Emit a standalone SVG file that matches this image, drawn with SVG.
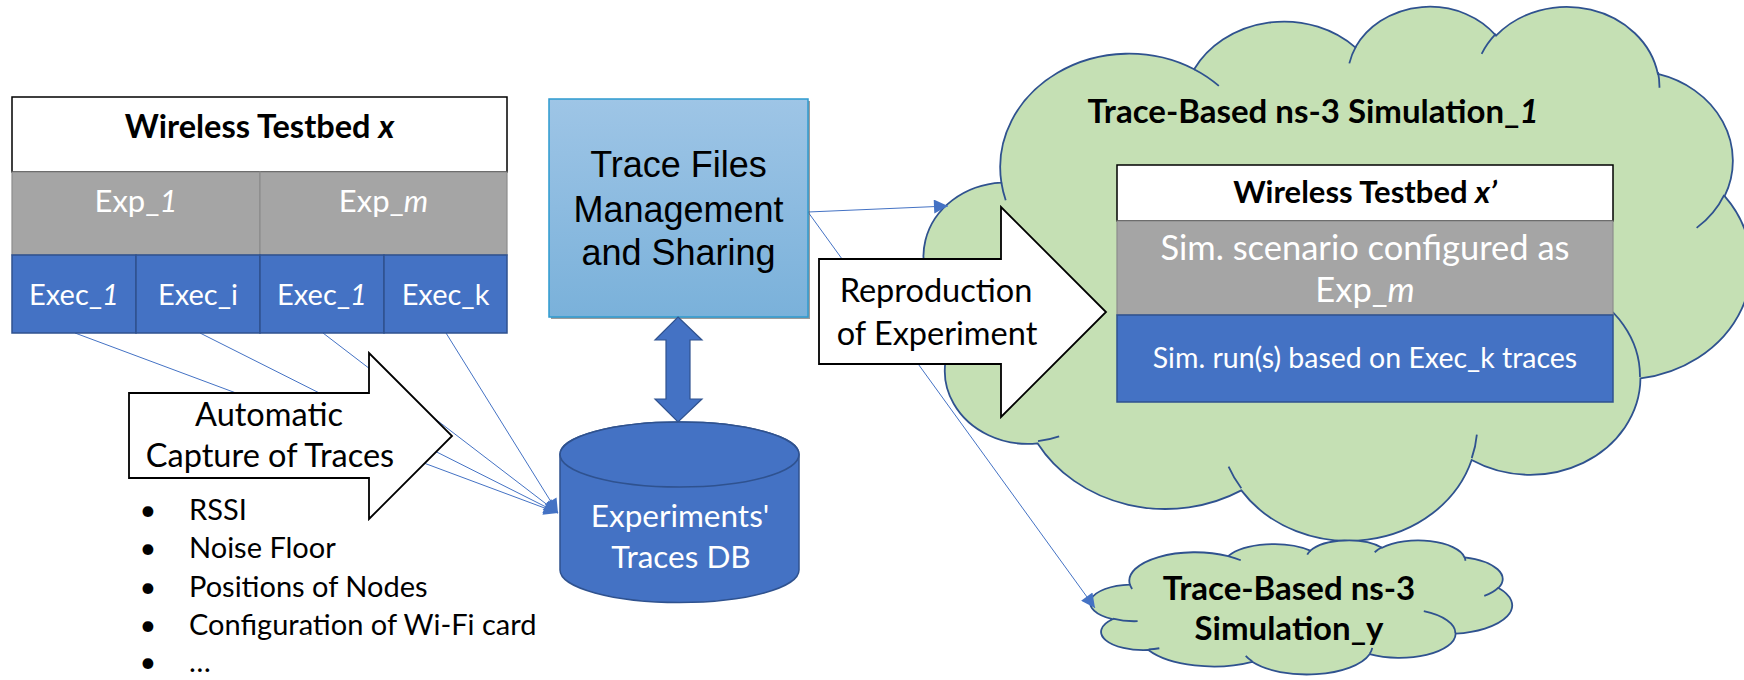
<svg xmlns="http://www.w3.org/2000/svg" width="1744" height="680" viewBox="0 0 1744 680">
<style>
.cal{font-family:Lato,"Open Sans","Liberation Sans",sans-serif}
.b{font-weight:bold}
.i{font-style:italic}
.w{fill:#FFFFFF}
.k{fill:#000000}
.mid{text-anchor:middle}
.conn{stroke:#4472C4;stroke-width:1;fill:none}
.cloud{fill:#C5E0B4;stroke:#2F528F;stroke-width:1.8}
.cloudin{fill:none;stroke:#2F528F;stroke-width:1.8}
.gray{fill:#A5A5A5;stroke:#8C8C8C;stroke-width:1.2}
.blue{fill:#4472C4;stroke:#2F528F;stroke-width:1.5}
.hdr{fill:#FFFFFF;stroke:#000000;stroke-width:1.5}
.bigarrow{fill:#FFFFFF;stroke:#000000;stroke-width:1.8;stroke-linejoin:miter}
</style>
<defs>
<linearGradient id="tg" x1="0" y1="0" x2="0" y2="1">
<stop offset="0" stop-color="#9EC5E6"/>
<stop offset="1" stop-color="#7AB1DA"/>
</linearGradient>
<path id="cloudOuter" vector-effect="non-scaling-stroke" d="M3900,14370 A6753,9190 0 0 1 14005,5202 A5333,7267 0 0 1 22456,3432 A4365,5945 0 0 1 29833,2481 A4857,6595 0 0 1 38317,5577 A5333,7273 0 0 1 41818,15461 A6775,9220 0 0 1 37404,30205 A5785,7867 0 0 1 28555,36815 A6752,9215 0 0 1 16479,39264 A7720,10543 0 0 1 5802,35468 A4360,5918 0 0 1 2111,25545 A4345,5945 0 0 1 3900,14370 Z"/>
<path id="cloudInner" vector-effect="non-scaling-stroke" d="M4693,26177 A4345,5945 0 0 1 2160,25380 M6928,34899 A4360,5918 0 0 1 5820,35280 M16478,39090 A6752,9215 0 0 1 15811,37351 M28827,34751 A6752,9215 0 0 1 28560,36660 M34129,22954 A5785,7867 0 0 1 37380,30089 M41798,15354 A5333,7273 0 0 1 40349,18032 M38324,5426 A4857,6595 0 0 1 38400,6690 M29078,3952 A4857,6595 0 0 1 29821,2338 M22141,4720 A4365,5945 0 0 1 22500,3330 M14000,5192 A6753,9190 0 0 1 15301,6541 M4127,15789 A6753,9190 0 0 1 3900,14370"/>
<marker id="ah" viewBox="0 0 10 10" refX="10" refY="5" markerWidth="17" markerHeight="14" markerUnits="userSpaceOnUse" orient="auto">
<path d="M0,0 L10,5 L0,10 z" fill="#4472C4"/>
</marker>
</defs>

<g id="cloud-sim1">
<g transform="translate(927,5) scale(0.019074,0.012361)">
<use href="#cloudOuter" class="cloud"/>
<use href="#cloudInner" class="cloudin"/>
</g>
<text class="cal b k mid" x="1313" y="123" font-size="33">Trace-Based ns-3 Simulation_<tspan class="i">1</tspan></text>
</g>

<g id="cloud-simy">
<g transform="translate(1092,540) scale(0.009722,0.003102)">
<use href="#cloudOuter" class="cloud"/>
<use href="#cloudInner" class="cloudin"/>
</g>
<text class="cal b k mid" x="1289" y="600" font-size="33">Trace-Based ns-3</text>
<text class="cal b k mid" x="1289" y="640" font-size="33">Simulation_y</text>
</g>

<g id="connectors">
<path class="conn" d="M75,333 L558,513" marker-end="url(#ah)"/>
<path class="conn" d="M200,333 L558,513" marker-end="url(#ah)"/>
<path class="conn" d="M323,333 L558,513" marker-end="url(#ah)"/>
<path class="conn" d="M446,333 L558,513" marker-end="url(#ah)"/>
<path class="conn" d="M808,212 L948,206" marker-end="url(#ah)"/>
<path class="conn" d="M808,212 L1095,608" marker-end="url(#ah)"/>
</g>

<g id="testbed-x">
<rect class="hdr" x="12" y="97" width="495" height="75"/>
<rect class="gray" x="12" y="172" width="248" height="83"/>
<rect class="gray" x="260" y="172" width="247" height="83"/>
<rect class="blue" x="12" y="255" width="124" height="78"/>
<rect class="blue" x="136" y="255" width="124" height="78"/>
<rect class="blue" x="260" y="255" width="124" height="78"/>
<rect class="blue" x="384" y="255" width="123" height="78"/>
<text class="cal b k mid" x="259.5" y="138" font-size="32.5">Wireless Testbed <tspan class="i">x</tspan></text>
<text class="cal w mid" x="136" y="212" font-size="31">Exp_<tspan class="i">1</tspan></text>
<text class="cal w mid" x="383.5" y="212" font-size="31">Exp_<tspan class="i">m</tspan></text>
<text class="cal w mid" x="74" y="305" font-size="29">Exec_<tspan class="i">1</tspan></text>
<text class="cal w mid" x="198" y="305" font-size="29">Exec_i</text>
<text class="cal w mid" x="322" y="305" font-size="29">Exec_<tspan class="i">1</tspan></text>
<text class="cal w mid" x="445.5" y="305" font-size="29">Exec_k</text>
</g>

<g id="trace-files">
<rect x="551" y="101" width="259" height="218" fill="#5A5A5A" opacity="0.6"/>
<rect x="549" y="99" width="259" height="218" fill="url(#tg)" stroke="#2E9BCF" stroke-width="1.5"/>
<text font-family="'Liberation Sans',Arial,sans-serif" class="k mid" x="678.5" y="177" font-size="36">Trace Files</text>
<text font-family="'Liberation Sans',Arial,sans-serif" class="k mid" x="678.5" y="222" font-size="36">Management</text>
<text font-family="'Liberation Sans',Arial,sans-serif" class="k mid" x="678.5" y="265" font-size="36">and Sharing</text>
</g>

<g id="double-arrow">
<polygon points="678,317 702,340 690,340 690,399 702,399 678,422 655,399 666,399 666,340 655,340" fill="#4472C4" stroke="#2F528F" stroke-width="1.2"/>
</g>

<g id="traces-db">
<path d="M560,454.5 L560,570 A119.5,32.5 0 0 0 799,570 L799,454.5 A119.5,32.5 0 0 0 560,454.5 Z" fill="#4472C4" stroke="#2F528F" stroke-width="1.5"/>
<ellipse cx="679.5" cy="454.5" rx="119.5" ry="32.5" fill="#4472C4" stroke="#2F528F" stroke-width="1.5"/>
<text class="cal w mid" x="680" y="527" font-size="31.5">Experiments'</text>
<text class="cal w mid" x="681" y="568" font-size="31.5">Traces DB</text>
</g>

<g id="capture-arrow">
<polygon class="bigarrow" points="129,393 369,393 369,353 452,436 369,519 369,478 129,478"/>
<text class="cal k mid" x="269" y="426" font-size="32.5">Automatic</text>
<text class="cal k mid" x="270" y="467" font-size="32.5">Capture of Traces</text>
</g>

<g id="trace-list">
<text class="cal k mid" x="148" y="520" font-size="29">•</text>
<text class="cal k mid" x="148" y="558" font-size="29">•</text>
<text class="cal k mid" x="148" y="597" font-size="29">•</text>
<text class="cal k mid" x="148" y="635" font-size="29">•</text>
<text class="cal k mid" x="148" y="672" font-size="29">•</text>
<text class="cal k" x="189" y="520" font-size="29">RSSI</text>
<text class="cal k" x="189" y="558" font-size="29">Noise Floor</text>
<text class="cal k" x="189" y="597" font-size="29">Positions of Nodes</text>
<text class="cal k" x="189" y="635" font-size="29">Configuration of Wi-Fi card</text>
<text class="cal k" x="189" y="672" font-size="29">…</text>
</g>

<g id="reproduction-arrow">
<polygon class="bigarrow" points="819,259 1001,259 1001,207 1106,312 1001,417 1001,364 819,364"/>
<text class="cal k mid" x="936" y="302" font-size="32.5">Reproduction</text>
<text class="cal k mid" x="937" y="345" font-size="32.5">of Experiment</text>
</g>

<g id="testbed-x-prime">
<rect class="hdr" x="1117" y="165" width="496" height="56"/>
<rect class="gray" x="1117" y="221" width="496" height="94"/>
<rect class="blue" x="1117" y="315" width="496" height="87"/>
<text class="cal b k mid" x="1365" y="203" font-size="31">Wireless Testbed <tspan class="i">x’</tspan></text>
<text class="cal w mid" x="1365" y="260" font-size="34.5">Sim. scenario configured as</text>
<text class="cal w mid" x="1365" y="302" font-size="34.5">Exp_<tspan class="i">m</tspan></text>
<text class="cal w mid" x="1365" y="368" font-size="28.5">Sim. run(s) based on Exec_k traces</text>
</g>
</svg>
